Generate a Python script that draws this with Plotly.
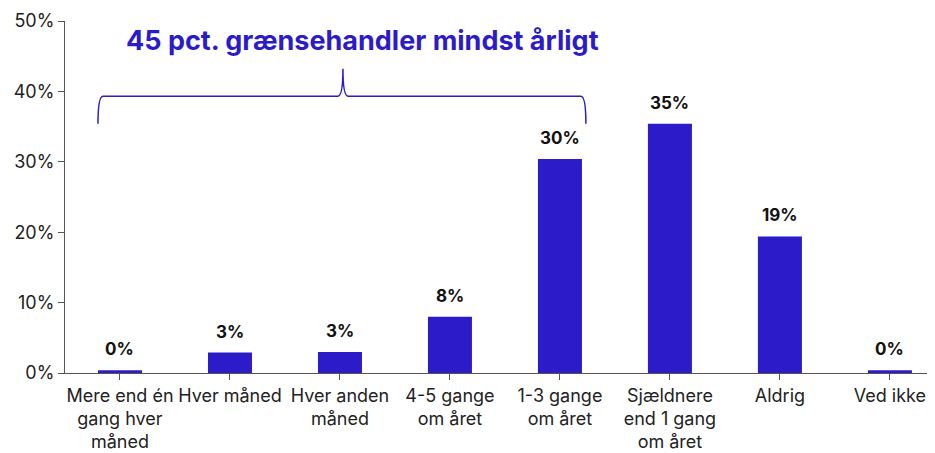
import plotly.graph_objects as go

# grænsehandel - hvor ofte
categories = [
    "Mere end én<br>gang hver<br>måned",
    "Hver måned",
    "Hver anden<br>måned",
    "4-5 gange<br>om året",
    "1-3 gange<br>om året",
    "Sjældnere<br>end 1 gang<br>om året",
    "Aldrig",
    "Ved ikke",
]
values = [0.4, 2.9, 3.0, 8.0, 30.4, 35.4, 19.4, 0.4]
y_ticks = [0, 10, 20, 30, 40, 50]
headline = "45 pct. grænsehandler mindst årligt"

blue = "#2b1bc9"
font = "Inter"

fig = go.Figure()
fig.add_trace(go.Bar(
    x=list(range(len(categories))), y=values,
    width=0.4, marker=dict(color=blue, line=dict(width=0)),
    hoverinfo="skip",
))

for i, v in enumerate(values):
    fig.add_annotation(
        x=i, y=v, text=f"<b>{round(v)}%</b>", showarrow=False,
        yanchor="bottom", yshift=9,
        font=dict(family=font, size=17, color="#111111"),
    )

# brace over the first five categories
brace = ("M -0.2,35.4 Q -0.2,39.3 -0.155,39.3 L 1.98,39.3 "
         "Q 2.027,39.3 2.027,43.2 Q 2.027,39.3 2.074,39.3 "
         "L 4.19,39.3 Q 4.236,39.3 4.236,35.4")
fig.add_shape(type="path", path=brace, xref="x", yref="y",
              line=dict(color=blue, width=1.5))

fig.add_annotation(
    x=(363 - 65) / 110 - 0.5, y=(373 - 40) / 7.04, xref="x", yref="y",
    text=f"<b>{headline}</b>", showarrow=False,
    font=dict(family=font, size=27, color=blue),
)

# page has an 8px body margin, so the figure is made 8px smaller each way
fig.update_layout(
    width=927, height=445,
    margin=dict(l=57, r=0, t=13, b=80, autoexpand=False),
    plot_bgcolor="white", paper_bgcolor="white",
    showlegend=False,
    font=dict(family=font, size=18, color="#222222"),
)
fig.update_xaxes(
    tickmode="array", tickvals=list(range(len(categories))), ticktext=categories,
    range=[-0.5, 7.41], showgrid=False, zeroline=False, automargin=False,
    showline=True, linecolor="#555555", linewidth=1,
    ticks="outside", ticklen=6, tickcolor="#555555",
    tickson="boundaries",
)
fig.update_yaxes(
    range=[0, 50], tickmode="array", tickvals=y_ticks,
    ticktext=[f"{t}%" for t in y_ticks],
    showgrid=False, zeroline=False, automargin=False,
    showline=True, linecolor="#555555", linewidth=1,
    ticks="outside", ticklen=6, tickcolor="#555555",
)

fig.write_html("out.html")
